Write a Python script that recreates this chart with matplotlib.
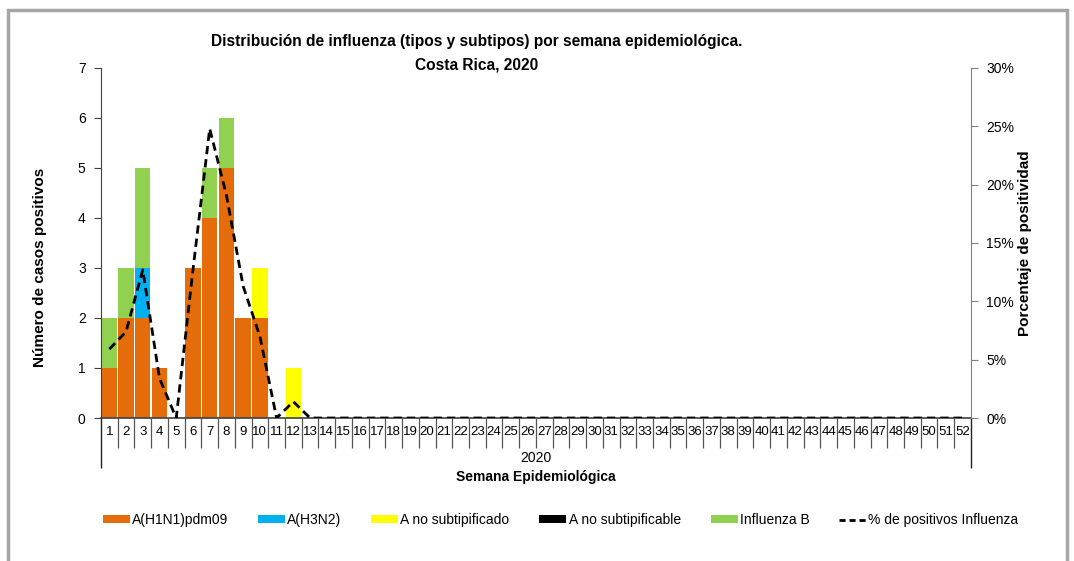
import numpy as np
import matplotlib.pyplot as plt
from matplotlib.patches import Patch, Rectangle
from matplotlib.lines import Line2D
from matplotlib.ticker import FuncFormatter
import matplotlib.transforms as mtransforms

plt.rcParams['font.family'] = ['Liberation Sans', 'DejaVu Sans']

# datos por semana epidemiologica (1-52), 2020
semanas = list(range(1, 53))
h1n1 = [1, 2, 2, 1, 0, 3, 4, 5, 2, 2, 0, 0] + [0] * 40
h3n2 = [0, 0, 1, 0, 0, 0, 0, 0, 0, 0, 0, 0] + [0] * 40
a_no_subtipificado = [0, 0, 0, 0, 0, 0, 0, 0, 0, 1, 0, 1] + [0] * 40
a_no_subtipificable = [0] * 52
influenza_b = [1, 1, 2, 0, 0, 0, 1, 1, 0, 0, 0, 0] + [0] * 40
pct_positivos = [5.9, 7.4, 12.7, 3.4, 0, 12.7, 24.8, 19.1, 11.3, 7.0, 0, 1.4] + [0] * 40

series = [
    ("A(H1N1)pdm09", h1n1, "#E46C0A"),
    ("A(H3N2)", h3n2, "#00B0F0"),
    ("A no subtipificado", a_no_subtipificado, "#FFFF00"),
    ("A no subtipificable", a_no_subtipificable, "#000000"),
    ("Influenza B", influenza_b, "#92D050"),
]

fig = plt.figure(figsize=(10.74, 5.61), dpi=100, facecolor='white')
ax = fig.add_axes([0.094, 0.2549, 0.81, 0.6239])

x = np.array(semanas)
bottom = np.zeros(len(x))
for name, vals, col in series:
    vals = np.array(vals, dtype=float)
    ax.bar(x, vals, bottom=bottom, width=0.92, color=col, edgecolor='none', zorder=2)
    bottom += vals

ax.set_xlim(0.5, 52.5)
ax.set_ylim(0, 7)
ax.set_yticks(range(0, 8))
ax.tick_params(axis='y', direction='out', length=5, labelsize=10, pad=6, color='#404040')
ax.set_xticks(x)
ax.set_xticklabels([str(s) for s in semanas], fontsize=9.5)
ax.tick_params(axis='x', length=0, pad=6)
for s in ['top', 'right']:
    ax.spines[s].set_visible(False)
ax.spines['left'].set_color('#404040')
ax.spines['bottom'].set_color('#404040')
ax.spines['bottom'].set_linewidth(1.2)

# separadores de categorias bajo el eje
trans = mtransforms.blended_transform_factory(ax.transData, ax.transAxes)
bounds = np.arange(0.5, 53.5, 1)
ax.vlines(bounds[1:-1], -0.086, 0, transform=trans, colors='#555555', lw=0.9, clip_on=False)
ax.vlines([bounds[0], bounds[-1]], -0.143, 0, transform=trans, colors='#222222', lw=1.0, clip_on=False)

ax.set_ylabel("Número de casos positivos", fontsize=11, fontweight='bold')
ax.yaxis.set_label_coords(-0.062, 0.43)

ax2 = ax.twinx()
ax2.plot(x, np.array(pct_positivos) / 100, color='black', lw=2, linestyle=(0, (3, 1.8)), zorder=3)
ax2.set_ylim(0, 0.30)
ax2.set_yticks(np.arange(0, 0.31, 0.05))
ax2.yaxis.set_major_formatter(FuncFormatter(lambda v, p: f"{v * 100:.0f}%"))
ax2.tick_params(axis='y', direction='out', length=5, labelsize=10, pad=6, color='#808080')
for s in ['top', 'left', 'bottom']:
    ax2.spines[s].set_visible(False)
ax2.spines['right'].set_color('#808080')
ax2.set_ylabel("Porcentaje de positividad", fontsize=11, fontweight='bold', labelpad=3)

fig.text(0.499, 0.183, "2020", ha='center', va='center', fontsize=10)
fig.text(0.499, 0.149, "Semana Epidemiológica", ha='center', va='center', fontsize=10, fontweight='bold')

fig.text(0.444, 0.926, "Distribución de influenza (tipos y subtipos) por semana epidemiológica.",
         ha='center', va='center', fontsize=11.2, fontweight='bold')
fig.text(0.444, 0.885, "Costa Rica, 2020", ha='center', va='center', fontsize=11.2, fontweight='bold')

handles = [Patch(facecolor=col, edgecolor='none', label=name) for name, vals, col in series]
handles.append(Line2D([0], [0], color='black', lw=2, linestyle=(0, (2.2, 1.4)), label='% de positivos Influenza'))
fig.legend(handles=handles, loc='center', bbox_to_anchor=(0.522, 0.073), ncol=6, frameon=False,
           handlelength=1.95, handleheight=0.5, handletextpad=0.15, columnspacing=2.15,
           prop={'size': 10})

# marco exterior
fig.patches.append(Rectangle((0.0075, -0.05), 0.986, 1.032, transform=fig.transFigure,
                             fill=False, edgecolor='#A6A6A6', lw=2.5))

fig.savefig("out.png", dpi=100, facecolor='white')
